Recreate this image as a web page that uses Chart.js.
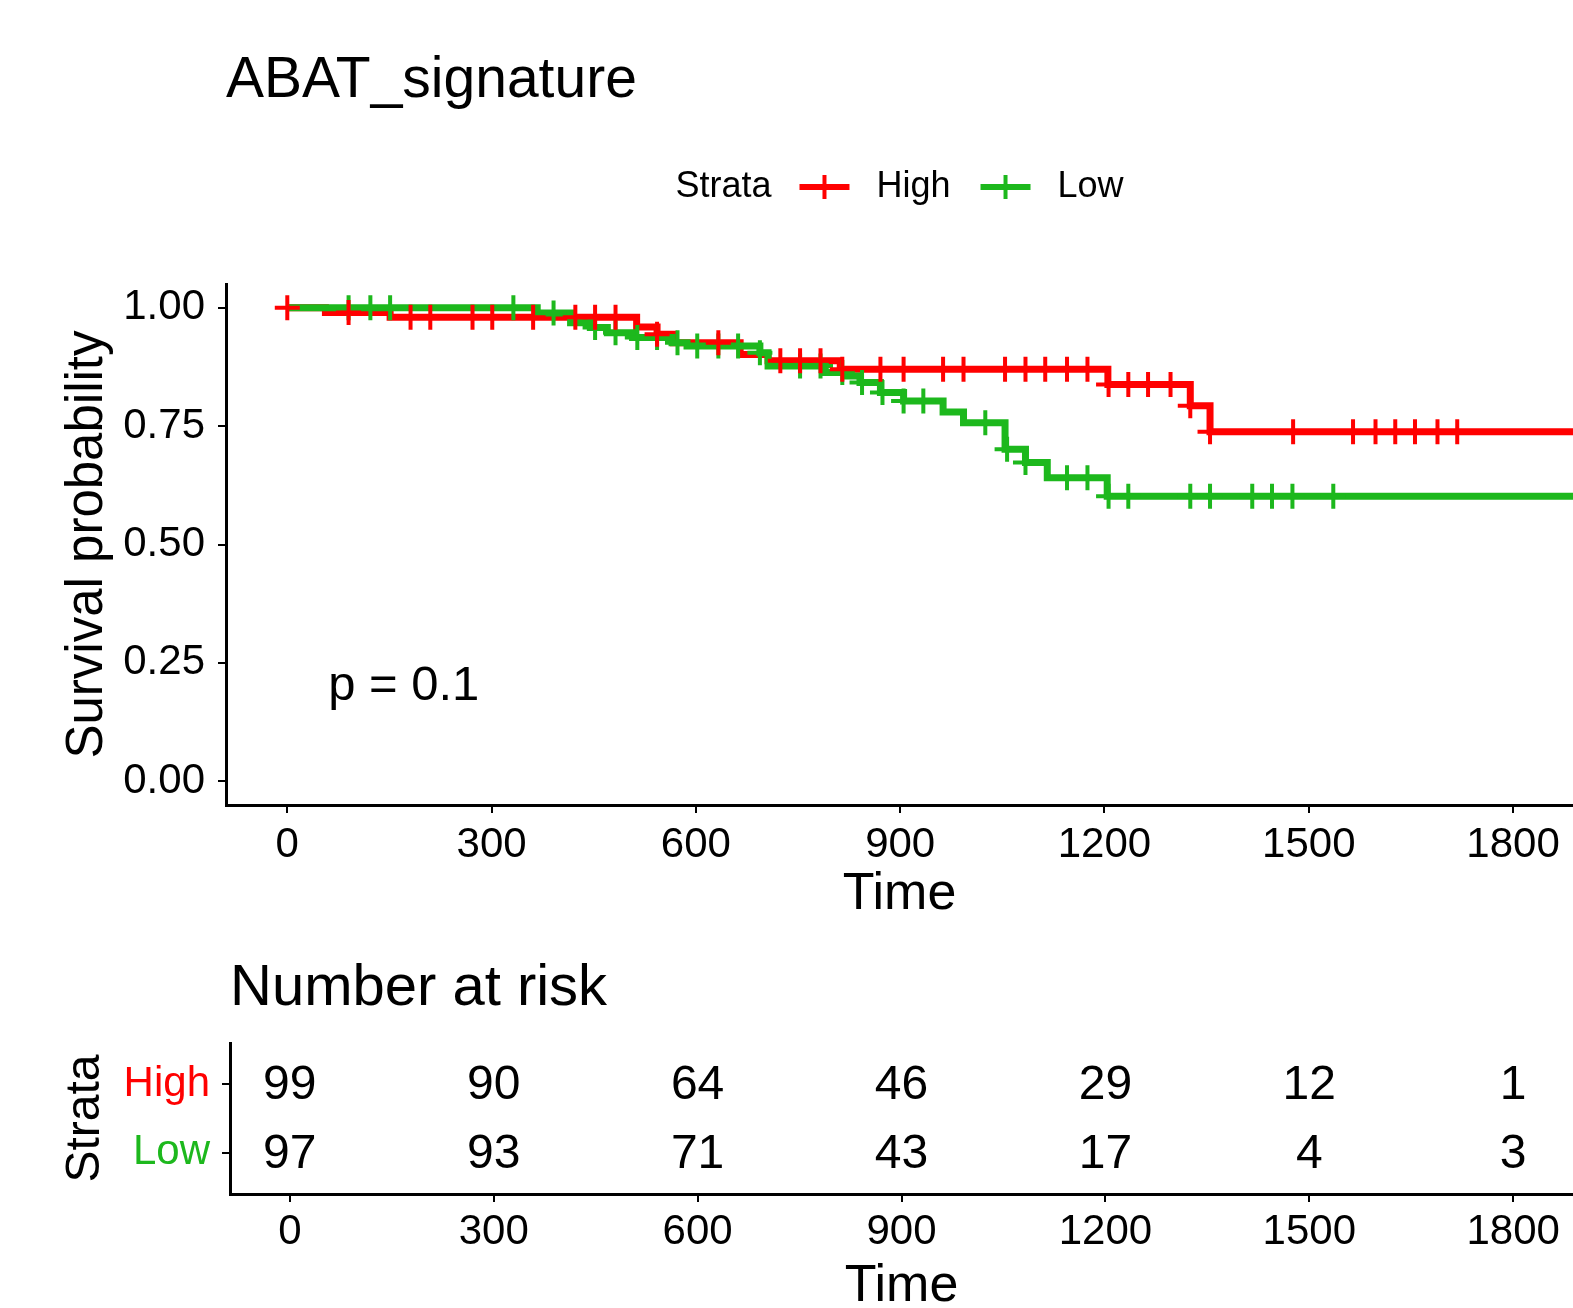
<!DOCTYPE html>
<html><head><meta charset="utf-8">
<script src="https://cdn.jsdelivr.net/npm/chart.js@4"></script>
<style>
html,body{margin:0;padding:0;background:#fff;overflow:hidden;width:1573px;height:1308px}
canvas{position:absolute;left:0;display:block}
#km{top:0}
#risk{top:930px}
</style></head><body>
<canvas id="km" width="1573" height="930"></canvas>
<canvas id="risk" width="1573" height="378"></canvas>
<script>
// ---------- data ----------
const strata = ['High', 'Low'];
const strataColors = ['#ff0000', '#1db81d'];

const highTimes = [0, 56, 151, 513, 543, 567, 665, 706, 812, 1205, 1326, 1355, 1900];
const highSurv  = [1, 0.990, 0.980, 0.959, 0.944, 0.926, 0.901, 0.888, 0.870, 0.838, 0.793, 0.738, 0.738];

const lowTimes = [0, 367, 416, 445, 470, 507, 565, 587, 694, 706, 790, 822, 841, 871, 905, 963, 993, 1054, 1084, 1116, 1204, 1900];
const lowSurv  = [1, 0.989, 0.968, 0.958, 0.947, 0.937, 0.926, 0.919, 0.905, 0.877, 0.863, 0.856, 0.842, 0.821, 0.803, 0.780, 0.757, 0.701, 0.673, 0.641, 0.602, 0.602];

const highCensor = [0, 90, 181, 210, 272, 301, 361, 423, 452, 482, 543, 633, 724, 753, 783, 815, 871, 905, 963, 993, 1054, 1084, 1113, 1145, 1175, 1206, 1235, 1264, 1297, 1326, 1355, 1477, 1565, 1598, 1627, 1656, 1689, 1718];
const lowCensor  = [90, 122, 151, 332, 391, 452, 482, 514, 543, 573, 602, 633, 662, 694, 753, 783, 815, 844, 874, 905, 934, 1025, 1057, 1084, 1145, 1175, 1206, 1235, 1326, 1355, 1417, 1446, 1476, 1536];

const timeTicks = [0, 300, 600, 900, 1200, 1500, 1800];
const survTicks = [0, 0.25, 0.5, 0.75, 1];

const riskTimes = [0, 300, 600, 900, 1200, 1500, 1800];
const riskHigh  = [99, 90, 64, 46, 29, 12, 1];
const riskLow   = [97, 93, 71, 43, 17, 4, 3];

const pLabel = 'p = 0.1';
const pCoord = [60, 0.2];

// ---------- helpers ----------
const FONT = "'Liberation Sans', Arial, Helvetica, sans-serif";
Chart.defaults.font.family = FONT;
Chart.defaults.color = '#000';
const stepData = (t, s) => t.map((x, i) => ({x: x, y: s[i]}));
const survAt = (t, s, x) => { let v = s[0]; for (let i = 0; i < t.length; i++) if (t[i] <= x) v = s[i]; return v; };
const censorData = (c, t, s) => c.map(x => ({x: x, y: survAt(t, s, x)}));
const noPad = s => { s.paddingLeft = 0; s.paddingRight = 0; s.paddingTop = 0; s.paddingBottom = 0; };

const axisGrid = {display: true, drawOnChartArea: false, drawTicks: true, tickLength: 8, color: '#000', lineWidth: 2};
const axisBorder = {display: true, color: '#000', width: 3};

// legend + p value plugin
const kmExtras = {
  id: 'kmExtras',
  afterDraw(chart) {
    const ctx = chart.ctx, ca = chart.chartArea;
    ctx.save();
    ctx.font = '36px ' + FONT;
    ctx.textBaseline = 'middle';
    ctx.textAlign = 'left';
    ctx.fillStyle = '#000';
    const sym = 50, g1 = 28, g2 = 27, g3 = 30;
    const wT = ctx.measureText('Strata').width;
    const wl = strata.map(s => ctx.measureText(s).width);
    const total = wT + g1 + strata.reduce((a, s, i) => a + sym + g2 + wl[i], 0) + g3 * (strata.length - 1);
    let x = (ca.left + ca.right) / 2 - total / 2;
    const y = 187;
    ctx.fillText('Strata', x, y);
    x += wT + g1;
    strata.forEach((s, i) => {
      ctx.strokeStyle = strataColors[i];
      ctx.lineWidth = 6;
      ctx.beginPath(); ctx.moveTo(x, y); ctx.lineTo(x + sym, y); ctx.stroke();
      ctx.lineWidth = 4;
      ctx.beginPath(); ctx.moveTo(x + sym / 2, y - 12); ctx.lineTo(x + sym / 2, y + 12); ctx.stroke();
      x += sym + g2;
      ctx.fillStyle = '#000';
      ctx.fillText(s, x, y);
      x += wl[i] + g3;
    });
    ctx.font = '49px ' + FONT;
    ctx.fillText(pLabel, chart.scales.x.getPixelForValue(pCoord[0]), chart.scales.y.getPixelForValue(pCoord[1]));
    ctx.restore();
  }
};

new Chart(document.getElementById('km'), {
  type: 'line',
  data: {
    datasets: [
      {type: 'line', label: 'High censor', data: censorData(highCensor, highTimes, highSurv), showLine: false,
       pointStyle: 'cross', pointRadius: 12.5, pointBorderWidth: 4, borderColor: strataColors[0], backgroundColor: strataColors[0], order: 0},
      {type: 'line', label: 'Low censor', data: censorData(lowCensor, lowTimes, lowSurv), showLine: false,
       pointStyle: 'cross', pointRadius: 12.5, pointBorderWidth: 4, borderColor: strataColors[1], backgroundColor: strataColors[1], order: 1},
      {type: 'line', label: 'Low', data: stepData(lowTimes, lowSurv), stepped: 'before', borderColor: strataColors[1],
       borderWidth: 7, pointRadius: 0, fill: false, order: 2},
      {type: 'line', label: 'High', data: stepData(highTimes, highSurv), stepped: 'before', borderColor: strataColors[0],
       borderWidth: 7, pointRadius: 0, fill: false, order: 3}
    ]
  },
  options: {
    responsive: false, animation: false, devicePixelRatio: 1,
    layout: {padding: 0, autoPadding: false},
    plugins: {
      legend: {display: false},
      tooltip: {enabled: false},
      title: {display: true, text: 'ABAT_signature', align: 'start', fullSize: false, color: '#000',
              font: {size: 57, weight: 'normal', lineHeight: 1.2}, padding: {top: 47, bottom: 168.6}}
    },
    scales: {
      x: {
        type: 'linear', min: -90, max: 1888,
        afterBuildTicks: s => { s.ticks = timeTicks.map(v => ({value: v})); },
        afterFit: s => { s.height = 125; noPad(s); },
        ticks: {font: {size: 42}, color: '#000', padding: 7, callback: v => String(v), maxRotation: 0, autoSkip: false},
        grid: axisGrid, border: axisBorder,
        title: {display: true, text: 'Time', font: {size: 52, lineHeight: 1}, color: '#000', padding: {top: 0, bottom: 9}}
      },
      y: {
        type: 'linear', min: -0.05, max: 1.05,
        afterBuildTicks: s => { s.ticks = survTicks.map(v => ({value: v})); },
        afterFit: s => { s.width = 226; noPad(s); },
        ticks: {font: {size: 42}, color: '#000', padding: 13, callback: v => Number(v).toFixed(2)},
        grid: axisGrid, border: axisBorder,
        title: {display: true, text: 'Survival probability', font: {size: 51, lineHeight: 1}, color: '#000', padding: {top: 62, bottom: 0}}
      }
    }
  },
  plugins: [kmExtras]
});

// ---------- risk table ----------
const riskLabels = {
  id: 'riskLabels',
  afterDatasetsDraw(chart) {
    const ctx = chart.ctx;
    ctx.save();
    ctx.font = '48px ' + FONT;
    ctx.fillStyle = '#000';
    ctx.textAlign = 'center';
    ctx.textBaseline = 'middle';
    chart.data.datasets.forEach((ds, di) => {
      const meta = chart.getDatasetMeta(di);
      meta.data.forEach((el, i) => ctx.fillText(String(ds.data[i].n), el.x, el.y + 2));
    });
    ctx.restore();
  }
};

const riskSets = [riskHigh, riskLow];
const strataPos = strata.map((s, k) => k + 1);
new Chart(document.getElementById('risk'), {
  type: 'line',
  data: {
    datasets: strata.map((s, k) => ({
      label: s,
      data: riskTimes.map((t, i) => ({x: t, y: strataPos[k], n: riskSets[k][i]})),
      showLine: false, pointRadius: 0, borderColor: strataColors[k]
    }))
  },
  options: {
    responsive: false, animation: false, devicePixelRatio: 1,
    layout: {padding: 0, autoPadding: false},
    plugins: {
      legend: {display: false},
      tooltip: {enabled: false},
      title: {display: true, text: 'Number at risk', align: 'start', fullSize: false, color: '#000',
              font: {size: 58, weight: 'normal', lineHeight: 1.2}, padding: {top: 24, bottom: 19.4}}
    },
    scales: {
      x: {
        type: 'linear', min: -88, max: 1888,
        afterBuildTicks: s => { s.ticks = riskTimes.map(v => ({value: v})); },
        afterFit: s => { s.height = 114; noPad(s); },
        ticks: {font: {size: 42}, color: '#000', padding: 5, callback: v => String(v), maxRotation: 0, autoSkip: false},
        grid: axisGrid, border: axisBorder,
        title: {display: true, text: 'Time', font: {size: 52, lineHeight: 0.8}, color: '#000', padding: {top: 0, bottom: 1}}
      },
      y: {
        type: 'linear', reverse: true, min: 0.4, max: strata.length + 0.6,
        afterBuildTicks: s => { s.ticks = strataPos.map(v => ({value: v})); },
        afterFit: s => { s.width = 230; noPad(s); },
        ticks: {font: {size: 42}, color: c => strataColors[c.index], padding: 12, callback: v => strata[v - 1]},
        grid: axisGrid, border: axisBorder,
        title: {display: true, text: 'Strata', font: {size: 48, lineHeight: 1}, color: '#000', padding: {top: 62, bottom: 0}}
      }
    }
  },
  plugins: [riskLabels]
});
</script>
</body></html>
